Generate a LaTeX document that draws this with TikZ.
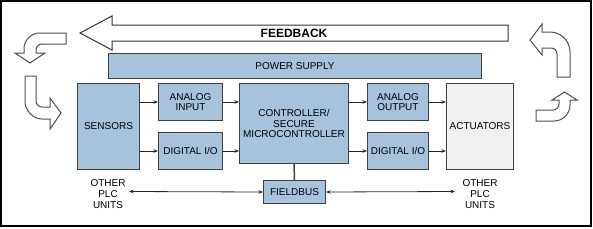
\documentclass[tikz,border=0pt]{standalone}
\usepackage{fontspec}
\setmainfont{Liberation Sans}
\usetikzlibrary{arrows.meta}
\definecolor{boxblue}{RGB}{167,195,220}
\definecolor{boxline}{RGB}{64,64,64}
\definecolor{actfill}{RGB}{240,240,240}
\definecolor{arrline}{RGB}{80,80,80}
\tikzset{
  blk/.style={draw=boxline, fill=boxblue, line width=1bp, inner sep=0pt, anchor=north west,
    align=center, font=\fontsize{10bp}{10.8bp}\selectfont},
  lbl/.style={inner sep=2bp, align=center, font=\fontsize{10bp}{10.8bp}\selectfont},
  conn/.style={line width=0.8bp, draw=black!85, -{Stealth[length=4.5bp,width=3.5bp]}},
  bigarrow/.style={draw=arrline, fill=white, line width=1bp, line join=miter},
}
\begin{document}
\begin{tikzpicture}[x=1bp,y=-1bp]
\useasboundingbox (0,0) rectangle (593,228);
\draw[line width=1.3bp, black] (1,1) rectangle (591,226);

% feedback arrow
\draw[bigarrow, draw=black!80] (508,25) -- (112,25) -- (112,16) -- (80,33) -- (112,50) -- (112,41) -- (508,41) -- cycle;
\node[font=\fontsize{12bp}{14bp}\selectfont\bfseries, inner sep=0pt] (fbtext) at (294,33) {FEEDBACK};

% curved arrows
\draw[bigarrow] (66,33) -- (39,33) .. controls (30.7,33) and (24,41.3) .. (24,48) -- (24,53) -- (15,53) -- (30,63) -- (45,53) -- (36,53) -- (36,50) .. controls (36,46.7) and (38.7,44) .. (42,44) -- (66,44) -- cycle;
\draw[bigarrow] (25,76) -- (36,76) -- (36,101) .. controls (36,104.3) and (38.7,107) .. (42,107) -- (50,107) -- (50,98) -- (61,113) -- (50,129) -- (50,119) -- (42,119) .. controls (32.6,119) and (25,109.6) .. (25,102) -- cycle;
\draw[bigarrow] (557,77) -- (570,77) -- (570,52) .. controls (570,41) and (561,32) .. (550,32) -- (542,32) -- (542,24) -- (530,40) -- (542,55) -- (542,48) -- (551,48) .. controls (554.3,48) and (557,50.7) .. (557,54) -- cycle;
\draw[bigarrow] (536,110) -- (553,110) .. controls (556.3,110) and (559,107.3) .. (559,104) -- (559,100) -- (552,100) -- (564.5,92) -- (577,100) -- (570,100) -- (570,105) .. controls (570,113.8) and (562.8,121) .. (554,121) -- (536,121) -- cycle;

% blocks
\node[blk, minimum width=373bp, minimum height=25bp] (pwr) at (108,53) {POWER SUPPLY};
\node[blk, minimum width=62bp, minimum height=86bp] (sens) at (77,83) {SENSORS};
\node[blk, minimum width=64bp, minimum height=37bp] (ain) at (158,83) {ANALOG\\INPUT};
\node[blk, minimum width=64bp, minimum height=37bp] (din) at (158,132) {DIGITAL I/O};
\node[blk, minimum width=109bp, minimum height=80bp] (ctrl) at (239,83) {CONTROLLER/\\SECURE\\MICROCONTROLLER};
\node[blk, minimum width=61bp, minimum height=37bp] (aout) at (367,83) {ANALOG\\OUTPUT};
\node[blk, minimum width=61bp, minimum height=37bp] (dout) at (367,132) {DIGITAL I/O};
\node[blk, fill=actfill, minimum width=67bp, minimum height=86bp] (act) at (446,83) {ACTUATORS};
\node[blk, minimum width=62bp, minimum height=23bp] (fb) at (263,180) {FIELDBUS};

\node[lbl] (oleft) at (108,194) {OTHER\\PLC\\UNITS};
\node[lbl] (oright) at (480,194) {OTHER\\PLC\\UNITS};
\coordinate (fbL) at (129,191.5);
\coordinate (fbR) at (455,191.5);

% connectors
\draw[conn] (sens.east |- ain.west) -- (ain.west);
\draw[conn] (sens.east |- din.west) -- (din.west);
\draw[conn] (ain.east) -- (ctrl.west |- ain.east);
\draw[conn] (din.east) -- (ctrl.west |- din.east);
\draw[conn] (ctrl.east |- aout.west) -- (aout.west);
\draw[conn] (ctrl.east |- dout.west) -- (dout.west);
\draw[conn] (aout.east) -- (act.west |- aout.east);
\draw[conn] (dout.east) -- (act.west |- dout.east);
\draw[line width=1.5bp, boxline] (ctrl.south) -- (fb.north);
\draw[conn, {Stealth[length=4.5bp,width=3.5bp]}-{Stealth[length=4.5bp,width=3.5bp]}] (fbL) -- (fb.west);
\draw[conn, {Stealth[length=4.5bp,width=3.5bp]}-{Stealth[length=4.5bp,width=3.5bp]}] (fb.east) -- (fbR);
\end{tikzpicture}
\end{document}
